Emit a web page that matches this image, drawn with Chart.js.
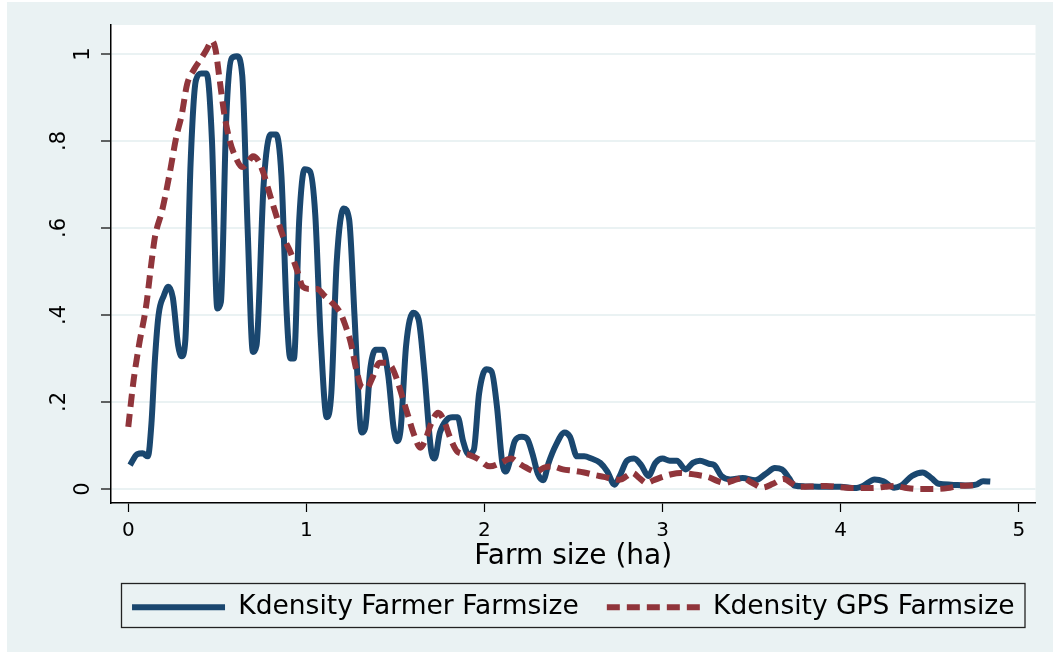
<!DOCTYPE html>
<html>
<head>
<meta charset="utf-8">
<script src="https://cdn.jsdelivr.net/npm/chart.js@4.4.1/dist/chart.umd.min.js"></script>
<style>
	html, body { margin: 0; padding: 0; background: #fff; }
	#wrap { width: 1053px; height: 653px; }
</style>
</head>
<body>
<div id="wrap"><canvas id="myChart"></canvas></div>
<script>
// tick labels
let xTicks = [0, 1, 2, 3, 4, 5];
let yTicks = [0, 0.2, 0.4, 0.6, 0.8, 1];

// Kdensity Farmer Farmsize
let farmerX = [0.01, 0.05, 0.08, 0.11, 0.13, 0.15, 0.17, 0.2, 0.225, 0.25, 0.28, 0.3, 0.32, 0.35, 0.38, 0.41, 0.44, 0.47, 0.5, 0.52,
	0.55, 0.58, 0.61, 0.64, 0.67, 0.7, 0.72, 0.76, 0.8, 0.83, 0.86, 0.89, 0.91, 0.93, 0.96, 0.99, 1.02, 1.05, 1.08, 1.115,
	1.14, 1.17, 1.21, 1.24, 1.27, 1.3, 1.31, 1.33, 1.36, 1.39, 1.43, 1.46, 1.49, 1.51, 1.53, 1.56, 1.6, 1.63, 1.66, 1.7,
	1.72, 1.75, 1.79, 1.82, 1.85, 1.88, 1.91, 1.94, 1.97, 2.01, 2.04, 2.07, 2.1, 2.12, 2.14, 2.17, 2.21, 2.24, 2.27, 2.3,
	2.33, 2.36, 2.4, 2.45, 2.48, 2.52, 2.56, 2.6, 2.65, 2.69, 2.73, 2.76, 2.8, 2.84, 2.88, 2.92, 2.96, 3.0, 3.04, 3.08,
	3.13, 3.17, 3.21, 3.26, 3.29, 3.33, 3.38, 3.45, 3.52, 3.58, 3.63, 3.67, 3.71, 3.74, 3.8, 3.9, 4.0, 4.08, 4.13, 4.19,
	4.24, 4.3, 4.34, 4.4, 4.46, 4.51, 4.55, 4.62, 4.7, 4.76, 4.8, 4.84];
let farmerY = [0.055, 0.08, 0.082, 0.075, 0.15, 0.3, 0.4, 0.445, 0.465, 0.44, 0.33, 0.305, 0.34, 0.75, 0.94, 0.955, 0.955, 0.8, 0.415, 0.43,
	0.85, 0.99, 0.995, 0.95, 0.6, 0.315, 0.33, 0.7, 0.815, 0.815, 0.72, 0.4, 0.3, 0.3, 0.62, 0.735, 0.73, 0.63, 0.35, 0.165,
	0.22, 0.52, 0.645, 0.62, 0.4, 0.16, 0.13, 0.14, 0.28, 0.32, 0.32, 0.26, 0.14, 0.11, 0.14, 0.33, 0.405, 0.39, 0.28, 0.09,
	0.07, 0.13, 0.16, 0.165, 0.165, 0.11, 0.08, 0.09, 0.22, 0.275, 0.27, 0.19, 0.06, 0.04, 0.06, 0.11, 0.12, 0.115, 0.08, 0.035,
	0.02, 0.06, 0.1, 0.13, 0.12, 0.075, 0.075, 0.07, 0.06, 0.04, 0.01, 0.03, 0.065, 0.07, 0.055, 0.03, 0.06, 0.07, 0.065, 0.065,
	0.045, 0.06, 0.065, 0.058, 0.055, 0.03, 0.022, 0.025, 0.02, 0.035, 0.048, 0.045, 0.025, 0.008, 0.006, 0.005, 0.005, 0.002, 0.008, 0.022,
	0.018, 0.003, 0.008, 0.03, 0.038, 0.025, 0.012, 0.01, 0.008, 0.01, 0.018, 0.017];

// Kdensity GPS Farmsize
let gpsX = [0.0, 0.03, 0.06, 0.1, 0.13, 0.15, 0.19, 0.23, 0.27, 0.3, 0.33, 0.37, 0.41, 0.44, 0.47, 0.49, 0.51, 0.54, 0.57, 0.6,
	0.64, 0.67, 0.7, 0.73, 0.76, 0.8, 0.83, 0.87, 0.91, 0.95, 0.98, 1.02, 1.06, 1.1, 1.14, 1.19, 1.22, 1.25, 1.28, 1.31,
	1.34, 1.37, 1.41, 1.45, 1.48, 1.51, 1.54, 1.57, 1.6, 1.64, 1.67, 1.7, 1.74, 1.77, 1.81, 1.85, 1.9, 1.96, 2.03, 2.09,
	2.15, 2.19, 2.23, 2.29, 2.34, 2.38, 2.44, 2.5, 2.56, 2.62, 2.67, 2.72, 2.76, 2.8, 2.83, 2.87, 2.91, 2.95, 3.0, 3.05,
	3.1, 3.15, 3.2, 3.26, 3.31, 3.35, 3.4, 3.45, 3.5, 3.56, 3.62, 3.68, 3.73, 3.77, 3.85, 3.92, 4.0, 4.08, 4.18, 4.25,
	4.3, 4.36, 4.44, 4.52, 4.6, 4.66, 4.72, 4.77];
let gpsY = [0.143, 0.25, 0.33, 0.42, 0.52, 0.58, 0.64, 0.72, 0.81, 0.86, 0.93, 0.965, 0.99, 1.01, 1.03, 1.01, 0.95, 0.86, 0.8, 0.765,
	0.74, 0.75, 0.765, 0.755, 0.725, 0.67, 0.63, 0.58, 0.545, 0.5, 0.465, 0.46, 0.46, 0.445, 0.43, 0.405, 0.375, 0.335, 0.275, 0.235,
	0.232, 0.255, 0.29, 0.29, 0.28, 0.25, 0.21, 0.17, 0.13, 0.095, 0.115, 0.15, 0.175, 0.16, 0.115, 0.085, 0.08, 0.07, 0.052, 0.06,
	0.07, 0.06, 0.05, 0.04, 0.05, 0.052, 0.045, 0.042, 0.038, 0.032, 0.028, 0.023, 0.021, 0.03, 0.037, 0.025, 0.014, 0.02, 0.028, 0.034,
	0.037, 0.035, 0.032, 0.027, 0.018, 0.014, 0.02, 0.025, 0.015, 0.003, 0.012, 0.023, 0.012, 0.005, 0.006, 0.007, 0.004, 0.002, 0.002, 0.005,
	0.007, 0.003, 0, 0, 0.002, 0.007, 0.008, 0.01];

let font = "DejaVu Sans";

function toPoints(xs, ys) {
	return xs.map((x, i) => ({ x: x, y: ys[i] }));
}

// backgrounds: outer grey-blue frame and white plot region
const background = {
	id: "background",
	beforeDraw(chart) {
		const ctx = chart.ctx;
		const a = chart.chartArea;
		ctx.save();
		ctx.fillStyle = "#ffffff";
		ctx.fillRect(0, 0, chart.width, chart.height);
		ctx.fillStyle = "#EAF2F3";
		ctx.fillRect(7, 2, chart.width - 7, chart.height - 3);
		ctx.fillStyle = "#ffffff";
		ctx.fillRect(a.left, a.top, a.right - a.left, a.bottom - a.top);
		ctx.restore();
	},
};

// center the legend under the plot region and draw its frame
const legendBox = {
	id: "legendBox",
	afterLayout(chart) {
		// same centre as the plot region, a bit wider so the row does not wrap
		chart.legend.left = chart.chartArea.left - 60;
		chart.legend.right = chart.chartArea.right + 60;
	},
	afterDraw(chart) {
		const ctx = chart.ctx;
		const a = chart.chartArea;
		const hb = chart.legend.legendHitBoxes[0];
		if (!hb) return;
		const cy = hb.top + hb.height / 2;
		ctx.save();
		ctx.strokeStyle = "#222";
		ctx.lineWidth = 1.3;
		ctx.strokeRect(a.left + 10.5, Math.round(cy - 24) + 0.5, a.right - a.left - 21, 44);
		ctx.restore();
	},
};

var ctx = document.getElementById("myChart").getContext("2d");
var chart = new Chart(ctx, {
	type: "line",
	data: {
		datasets: [
			{
				label: "Kdensity Farmer Farmsize",
				data: toPoints(farmerX, farmerY),
				borderColor: "#1A476F",
				backgroundColor: "#1A476F",
				borderWidth: 6,
				pointRadius: 0,
				cubicInterpolationMode: "monotone",
				order: 2,
			},
			{
				label: "Kdensity GPS Farmsize",
				data: toPoints(gpsX, gpsY),
				borderColor: "#90353B",
				backgroundColor: "#90353B",
				borderWidth: 6,
				borderDash: [13, 7],
				pointRadius: 0,
				cubicInterpolationMode: "monotone",
				order: 1,
			},
		],
	},
	options: {
		responsive: true,
		maintainAspectRatio: false,
		animation: false,
		layout: { padding: { left: 7, right: 17.5, top: 25, bottom: 22.5 } },
		plugins: {
			tooltip: { enabled: false },
			legend: {
				position: "bottom",
				labels: {
					usePointStyle: true,
					pointStyle: "line",
					pointStyleWidth: 93,
					boxWidth: 93,
					padding: 28,
					color: "#000",
					font: { family: font, size: 26.5, lineHeight: 1 },
					generateLabels: (chart) => {
						let items = Chart.defaults.plugins.legend.labels.generateLabels(chart);
						items.forEach((it) => {
							let ds = chart.data.datasets[it.datasetIndex];
							it.lineDash = ds.borderDash || [];
							it.lineWidth = 6;
							it.strokeStyle = ds.borderColor;
						});
						return items.sort((a, b) => a.datasetIndex - b.datasetIndex);
					},
				},
			},
		},
		scales: {
			x: {
				type: "linear",
				min: -0.097,
				max: 5.094,
				afterBuildTicks: (s) => {
					s.ticks = xTicks.map((v) => ({ value: v }));
				},
				afterFit: (s) => {
					s.height = 63;
				},
				ticks: {
					padding: 7,
					maxRotation: 0,
					color: "#000",
					font: { family: font, size: 20 },
				},
				grid: { drawOnChartArea: false, tickColor: "#000", tickLength: 9, tickWidth: 1.2 },
				border: { color: "#000", width: 1.5 },
				title: {
					display: true,
					text: "Farm size (ha)",
					color: "#000",
					font: { family: font, size: 28, lineHeight: 1 },
					padding: { top: 0, bottom: -5 },
				},
			},
			y: {
				min: -0.0322,
				max: 1.0667,
				afterBuildTicks: (s) => {
					s.ticks = yTicks.map((v) => ({ value: v }));
				},
				afterFit: (s) => {
					s.width = 104;
				},
				ticks: {
					minRotation: 90,
					maxRotation: 90,
					crossAlign: "center",
					padding: 7,
					color: "#000",
					font: { family: font, size: 21, lineHeight: 1.15 },
					callback: (v) => {
						let r = Math.round(v * 10) / 10;
						if (r === 0 || r === 1) return String(r);
						// the decimal labels sit further from the axis, as in the original
						return [String(r).replace(/^0/, ""), "", ""];
					},
				},
				grid: { color: "#EAF2F3", lineWidth: 2, tickColor: "#000", tickLength: 10, tickWidth: 1.2 },
				border: { color: "#000", width: 1.5 },
			},
		},
	},
	plugins: [background, legendBox],
});
</script>
</body>
</html>
